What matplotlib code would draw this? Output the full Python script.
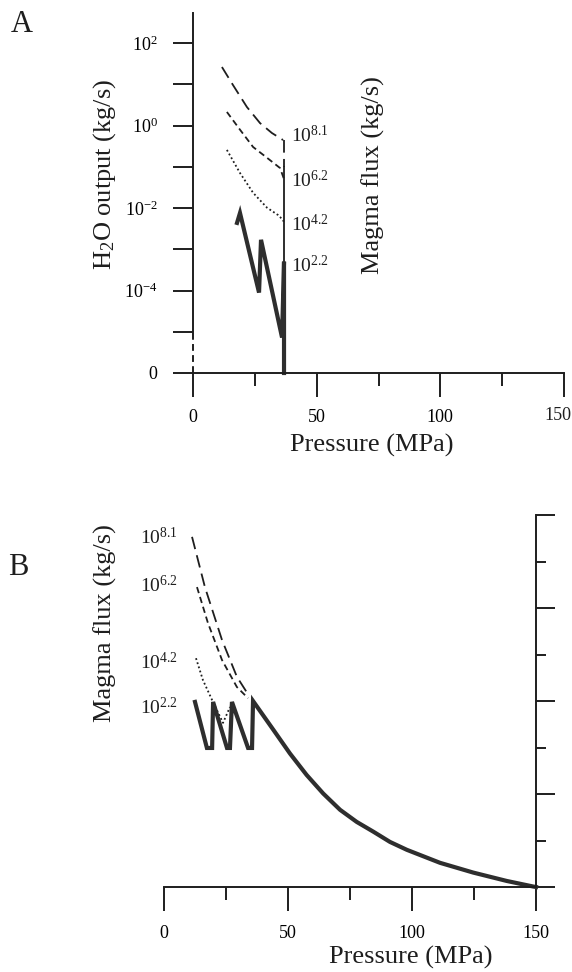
import matplotlib
matplotlib.use("Agg")
import matplotlib.pyplot as plt
from matplotlib.ticker import FixedLocator, FixedFormatter

plt.rcParams['font.family'] = ['Liberation Serif', 'DejaVu Serif']
plt.rcParams['mathtext.fontset'] = 'custom'
plt.rcParams['mathtext.rm'] = 'Liberation Serif'
plt.rcParams['mathtext.it'] = 'Liberation Serif:italic'
plt.rcParams['mathtext.bf'] = 'Liberation Serif:bold'

# ---------------- data ----------------
# Panel A: H2O output (log10 kg/s) vs pressure (MPa); zero output drawn at ZERO_LEVEL
ZERO_LEVEL = -6
flux_labels = ['$10^{8.1}$', '$10^{6.2}$', '$10^{4.2}$', '$10^{2.2}$']
a81_p = [11.7, 16.2, 21.8, 27.1, 31.9, 36.4]
a81_y = [1.42, 0.98, 0.45, 0.06, -0.18, -0.35]
a62_p = [13.7, 19.0, 24.3, 29.9, 35.2, 36.8]
a62_y = [0.33, -0.10, -0.52, -0.78, -1.03, -1.30]
a42_p = [13.7, 19.0, 24.3, 29.9, 34.4, 36.4, 36.8]
a42_y = [-0.59, -1.15, -1.63, -1.99, -2.17, -2.29, -2.35]
a22_p = [17.8, 19.0, 26.7, 27.5, 36.0, 36.8, 36.8]
a22_y = [-2.36, -2.12, -4.05, -2.77, -5.14, -3.30, ZERO_LEVEL]
a_vent_p = 36.8
a_vent_dash_y = [-0.35, -1.0]
a_vent_solid_y = [-1.0, ZERO_LEVEL]
a_label_y = [-0.23, -1.32, -2.41, -3.40]
a_yticks = [-6, -5, -4, -3, -2, -1, 0, 1, 2]
a_yticklabels = ['0', '', '$10^{-4}$', '', '$10^{-2}$', '', '$10^{0}$', '', '$10^{2}$']

# Panel B: magma flux curves vs pressure (MPa)
b81_p = [11.3, 16.5, 23.4, 29.4, 34.3]
b81_y = [7.53, 6.45, 5.31, 4.52, 4.11]
b62_p = [13.3, 17.7, 23.4, 29.4, 33.9]
b62_y = [6.45, 5.68, 4.88, 4.30, 4.06]
b42_p = [12.9, 15.7, 19.4, 23.8, 26.6]
b42_y = [4.92, 4.45, 4.02, 3.53, 3.87]
b22_p = [12.5, 17.3, 19.4, 19.8, 25.4, 26.6, 27.4, 33.9, 35.5, 35.9,
         44.1, 50.8, 57.5, 64.2, 71.0, 77.7, 84.4, 91.1, 97.9, 111.3, 124.7, 138.2, 148.9, 150.0]
b22_y = [3.98, 2.99, 2.99, 3.98, 2.99, 2.99, 3.98, 2.99, 2.99, 4.00,
         3.38, 2.87, 2.41, 2.01, 1.66, 1.40, 1.19, 0.97, 0.80, 0.52, 0.31, 0.13, 0.01, 0.0]
b_label_y = [7.51, 6.49, 4.82, 3.85]

x_ticks_major = [0, 50, 100, 150]
x_ticks_minor = [25, 75, 125]

# ---------------- figure ----------------
W, H = 572, 972
fig = plt.figure(figsize=(W / 100, H / 100), dpi=100)


def px_axes(l, r, t, b):
    return fig.add_axes([l / W, 1 - b / H, (r - l) / W, (b - t) / H])

ink = '#1e1e1e'
thick = '#2e2e2e'
SP_LW = 1.4
LONG = (0, (7, 3.5))
MED = (0, (3.5, 2.2))
DOT = (0, (1, 1.4))

# ---------- Panel A ----------
axA = px_axes(193, 564, 13, 373)
axA.set_xlim(0, 150)
axA.set_ylim(ZERO_LEVEL, 2.73)
for s in ['top', 'right']:
    axA.spines[s].set_visible(False)
axA.spines['left'].set_bounds(-5, 2.73)
for s in ['left', 'bottom']:
    axA.spines[s].set_linewidth(SP_LW)
    axA.spines[s].set_color(ink)
axA.plot([0, 0], [ZERO_LEVEL, -5], color=ink, lw=SP_LW, ls=(0, (3.5, 2.2)), clip_on=False)

axA.xaxis.set_major_locator(FixedLocator(x_ticks_major))
axA.xaxis.set_major_formatter(FixedFormatter(['0', '50', '100', '']))
axA.xaxis.set_minor_locator(FixedLocator(x_ticks_minor))
axA.tick_params(axis='x', which='major', direction='out', length=17, width=SP_LW,
                color=ink, labelsize=13, pad=9)
axA.tick_params(axis='x', which='minor', direction='out', length=9.5, width=SP_LW, color=ink)
axA.annotate('150', xy=(x_ticks_major[-1], 0), xycoords=('data', 'axes fraction'),
             xytext=(7, -43), textcoords='offset pixels', ha='right', va='center',
             fontsize=13, color=ink)
axA.yaxis.set_major_locator(FixedLocator(a_yticks))
axA.yaxis.set_major_formatter(FixedFormatter(a_yticklabels))
axA.tick_params(axis='y', which='major', direction='out', length=14.5, width=SP_LW,
                color=ink, labelsize=13, pad=11)

axA.plot(a81_p, a81_y, color=ink, lw=1.3, ls=LONG)
axA.plot(a62_p, a62_y, color=ink, lw=1.3, ls=MED)
axA.plot(a42_p, a42_y, color=ink, lw=1.3, ls=DOT)
axA.plot([a_vent_p, a_vent_p], a_vent_dash_y, color=ink, lw=1.3, ls=LONG)
axA.plot([a_vent_p, a_vent_p], a_vent_solid_y, color=ink, lw=1.3)
axA.plot(a22_p, a22_y, color=thick, lw=3.0, solid_joinstyle='miter', clip_on=False)

for lab, yy in zip(flux_labels, a_label_y):
    axA.text(39.5, yy, lab, fontsize=14, ha='left', va='center', color=ink)

fig.text(105 / W, 1 - 174 / H, 'H$_2$O output (kg/s)', rotation=90, fontsize=19,
         ha='center', va='center', color=ink)
fig.text(373 / W, 1 - 175 / H, 'Magma flux (kg/s)', rotation=90, fontsize=19,
         ha='center', va='center', color=ink)
fig.text(372 / W, 1 - 445 / H, 'Pressure (MPa)', fontsize=19, ha='center', va='center', color=ink)
fig.text(22 / W, 1 - 25 / H, 'A', fontsize=22, ha='center', va='center', color=ink)

# ---------- Panel B ----------
axB = px_axes(164, 536, 515, 887)
axB.set_xlim(0, 150)
axB.set_ylim(0, 8)
for s in ['top', 'left']:
    axB.spines[s].set_visible(False)
for s in ['right', 'bottom']:
    axB.spines[s].set_linewidth(SP_LW)
    axB.spines[s].set_color(ink)
axB.xaxis.set_major_locator(FixedLocator(x_ticks_major))
axB.xaxis.set_minor_locator(FixedLocator(x_ticks_minor))
axB.tick_params(axis='x', which='major', direction='out', length=17, width=SP_LW,
                color=ink, labelsize=13, pad=10)
axB.tick_params(axis='x', which='minor', direction='out', length=9.5, width=SP_LW, color=ink)
axB.yaxis.tick_right()
axB.yaxis.set_major_locator(FixedLocator([0, 2, 4, 6, 8]))
axB.yaxis.set_minor_locator(FixedLocator([1, 3, 5, 7]))
axB.tick_params(axis='y', which='major', direction='out', length=14, width=SP_LW,
                color=ink, labelright=False, labelleft=False)
axB.tick_params(axis='y', which='minor', direction='out', length=7, width=SP_LW, color=ink)

axB.plot(b81_p, b81_y, color=ink, lw=1.3, ls=LONG)
axB.plot(b62_p, b62_y, color=ink, lw=1.3, ls=MED)
axB.plot(b42_p, b42_y, color=ink, lw=1.3, ls=DOT)
axB.plot(b22_p, b22_y, color=thick, lw=3.0, solid_joinstyle='miter', clip_on=False)

for lab, yy in zip(flux_labels, b_label_y):
    axB.text(5.6, yy, lab, fontsize=14, ha='right', va='center', color=ink)

fig.text(105 / W, 1 - 623 / H, 'Magma flux (kg/s)', rotation=90, fontsize=19,
         ha='center', va='center', color=ink)
fig.text(411 / W, 1 - 957 / H, 'Pressure (MPa)', fontsize=19, ha='center', va='center', color=ink)
fig.text(18 / W, 1 - 567 / H, 'B', fontsize=22, ha='center', va='center', color=ink)

fig.savefig('out.png', dpi=100)
